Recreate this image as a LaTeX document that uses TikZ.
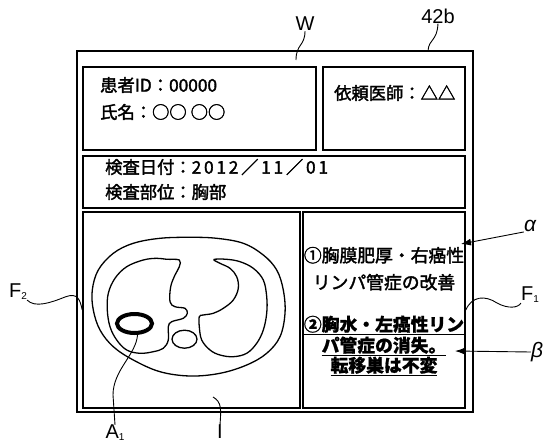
\documentclass[tikz,border=0pt]{standalone}
\usepackage{fontspec}
\setmainfont{Liberation Sans}
\newfontfamily\jp{Noto Sans CJK JP}[FakeBold=2]
\newfontfamily\jpbold{Noto Sans CJK JP}[BoldFeatures={FakeBold=1}]
\usetikzlibrary{positioning,shapes.geometric,arrows.meta}
\newcommand{\idx}[1]{\raisebox{-2pt}{\fontsize{10}{10}\selectfont #1}}
\newcommand{\spaced}[1]{{\addfontfeature{LetterSpace=16}#1}}
\tikzset{
  panel/.style={draw, rectangle, line width=1.5pt, inner sep=0pt
  },
  info/.style={anchor=west, inner sep=0pt, font=\jp\fontsize{17.3}{20}\selectfont
  },
  finding/.style={anchor=base, inner sep=0pt, font=\jp\fontsize{17.8}{20}\selectfont
  },
  strong/.style={anchor=base, inner sep=0pt, font=\jpbold\bfseries\fontsize{17.8}{20}\selectfont
  },
  callout/.style={inner sep=0pt, font=\fontsize{20}{22}\selectfont
  },
  leader/.style={line width=0.9pt
  },
  organ/.style={line width=1.3pt
  }
}

\begin{document}
\begin{tikzpicture}[x=1pt,y=-1pt]
  \useasboundingbox (0,0) rectangle (546,447);

  % screen and its panels
  \node[panel, minimum width=396pt, minimum height=361pt] (screen) at (275,231.5) {};
  \node[panel, minimum width=233pt, minimum height=83pt] (patient) at (199.5,108.5) {};
  \node[panel, minimum width=142pt, minimum height=83pt] (doctor) at (394,108.5) {};
  \node[panel, minimum width=382pt, minimum height=52pt] (exam) at (274,182) {};
  \node[panel, minimum width=217pt, minimum height=196pt] (image) at (191.5,310) {};
  \node[panel, minimum width=162pt, minimum height=196pt] (report) at (384,310) {};

  \node[info] (pid) at (100,85) {患者ID：00000};
  \node[info] (pname) at (100,112) {氏名：○○\hspace{4pt}○○};
  \node[info] (req) at (334,93) {依頼医師：△△};
  \node[info] (edate) at (105,167) {検査日付：\spaced{2012／11／01}};
  \node[info] (epart) at (105,192) {検査部位：胸部};

  \node[finding] (f1a) at (384,262) {①胸膜肥厚・右癌性};
  \node[finding] (f1b) at (384,289) {リンパ管症の改善};
  \node[strong] (f2a) at (384,331) {\underline{②胸水・左癌性リン}};
  \node[strong] (f2b) at (384,352) {\underline{パ管症の消失。}};
  \node[strong] (f2c) at (384,372) {\underline{転移巣は不変}};

  % chest slice
  \draw[organ] plot[smooth cycle, tension=0.6] coordinates {(190,237.3) (216.7,238.3)
    (243.3,243.3) (263.3,255) (276.7,270) (283.3,290) (285,313.3) (280,336.7)
    (266.7,353.3) (246.7,365) (220,373.3) (190,376) (160,371.7) (133.3,360)
    (113.3,346.7) (100,330) (93.3,310) (92.3,290) (98.3,270) (113.3,253.3)
    (133.3,243.3) (160,238.3)};
  \draw[organ] plot[smooth cycle, tension=0.6] coordinates {(179.3,260) (166.7,259.3)
    (156.7,258.3) (143.3,260) (126.7,266.7) (115,278.3) (108.3,293.3) (107.3,310)
    (110,326.7) (116.7,340) (126.7,350) (140,353.3) (153.3,351.7) (163.3,348.3)
    (168.3,340) (168.3,326.7) (171.7,321.7) (183.3,318.3) (187.3,313.3) (185,308.3)
    (175,306.7) (170,301.7) (170.7,286.7) (175,275) (179.3,266.7)};
  \draw[organ] plot[smooth cycle, tension=0.6] coordinates {(214,259.5) (226.7,259.3)
    (240,261.7) (253.3,268.3) (263.3,280) (266.7,296.7) (266.7,313.3) (263.3,330)
    (256.7,343.3) (246.7,353.3) (233.3,356.7) (220,355) (210,350) (201.7,340)
    (199.3,326.7) (199.3,316.7) (203.3,315) (213.3,313.3) (223.3,308.3) (233.3,300)
    (238.3,288.3) (236.7,276.7) (230,268.3) (220,263.3)};
  \draw[organ] (184.5,339.2) ellipse [x radius=12.5pt, y radius=9pt];
  \node[draw, ellipse, line width=4pt, minimum width=35pt, minimum height=19pt,
    inner sep=0pt] (A1) at (134.5,323.5) {};

  % reference labels
  \node[callout] (lW) at (305,24) {W};
  \node[callout] (l42b) at (438,16) {42b};
  \node[callout] (lF2) at (18,292) {F\idx{2}};
  \node[callout] (lF1) at (530,295) {F\idx{1}};
  \node[callout] (lA1) at (115,433) {A\idx{1}};
  \node[callout] (lI) at (220,432) {I};
  \node[callout, font=\itshape\fontsize{21}{22}\selectfont] (lalpha) at (530,226) {α};
  \node[callout, font=\itshape\fontsize{21}{22}\selectfont] (lbeta) at (537,352) {β};

  \coordinate (wtip) at (296,60);
  \coordinate (ftip) at (428,51);
  \coordinate (itip) at (213,397);
  \coordinate (atip) at (461,244);
  \coordinate (btip) at (455,351);

  \draw[leader] (wtip) .. controls (296,44) and (305,46) .. (lW.south);
  \draw[leader] (ftip) .. controls (429,38) and (437,42) .. (l42b.south);
  \draw[leader] (lF2.south east) .. controls (35,308) and (50,303) .. (65,297)
    .. controls (78,292) and (80,300) .. (image.west);
  \draw[leader] (report.east) .. controls (472,296) and (485,295) .. (497,303)
    .. controls (508,309) and (518,308) .. (lF1.south west);
  \draw[leader] (A1.-75) .. controls (136,355) and (113,370) .. (113,395) -- (lA1.north);
  \draw[leader] (itip) .. controls (222,402) and (221,410) .. (lI.north);
  \draw[leader, -{Latex[length=10pt,width=7pt]}] (lalpha.south west) -- (atip);
  \draw[leader, -{Latex[length=10pt,width=7pt]}] (lbeta.west) -- (btip);
\end{tikzpicture}
\end{document}
